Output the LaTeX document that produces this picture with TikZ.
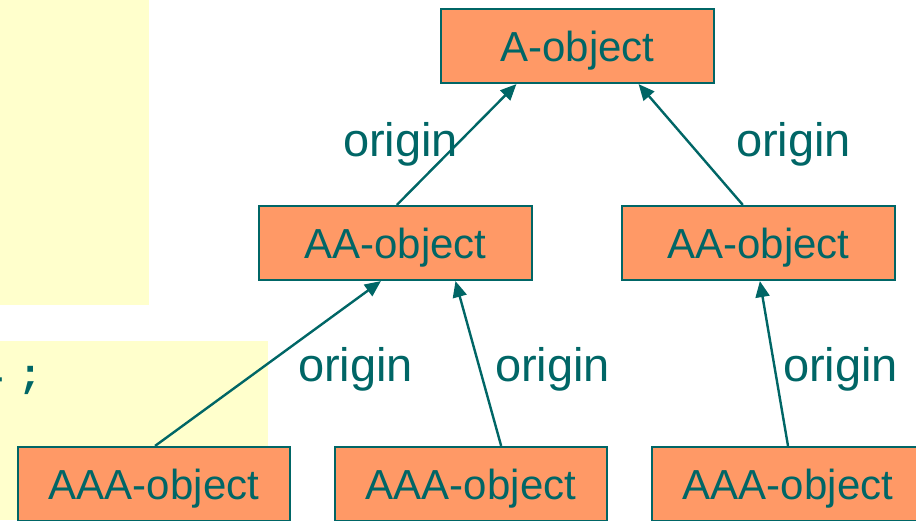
\documentclass[tikz,border=0pt]{standalone}
\usepackage{fontspec}
\setmainfont{Liberation Sans}
\newfontfamily\codefont{Liberation Mono}
\usetikzlibrary{arrows.meta,calc}
\definecolor{tealdk}{HTML}{006666}
\definecolor{boxfill}{HTML}{FF9966}
\definecolor{yel}{HTML}{FFFFCC}
\tikzset{
  obj/.style={draw=tealdk, line width=2.2pt, fill=boxfill, text=tealdk,
    minimum width=273pt, minimum height=74pt, inner sep=0pt,
    font=\fontsize{42}{50}\selectfont, text height=30pt, text depth=0pt},
  lbl/.style={text=tealdk, font=\fontsize{47}{56}\selectfont, inner sep=0pt, anchor=base west},
  link/.style={draw=tealdk, line width=2.4pt, -{Triangle[length=16pt,width=14pt]}},
  codetxt/.style={text=tealdk, font=\codefont\bfseries\fontsize{40}{48}\selectfont, inner sep=0pt, anchor=base west}
}
\begin{document}
\begin{tikzpicture}[x=1pt,y=-1pt]
\useasboundingbox (0,0) rectangle (916,520);
\clip (0,0) rectangle (916,520);
% background code panels
\fill[yel] (0,0) rectangle (149,305);
\fill[yel] (0,341) rectangle (268,520);
\node[codetxt] (code) at (-21,387) {4\hspace{15.5pt};};
% objects
\node[obj] (a)   at (577.5,46)  {A-object};
\node[obj] (aal) at (395.5,243) {AA-object};
\node[obj] (aar) at (758.5,243) {AA-object};
\node[obj, minimum width=272pt] (aaa1) at (154,484) {AAA-object};
\node[obj, minimum width=272pt] (aaa2) at (471,484) {AAA-object};
\node[obj, minimum width=272pt] (aaa3) at (788,484) {AAA-object};
% links
\draw[link] ($(aal.north west)!0.505!(aal.north east)$) -- ($(a.south west)!0.278!(a.south east)$);
\draw[link] ($(aar.north west)!0.443!(aar.north east)$) -- ($(a.south west)!0.722!(a.south east)$);
\draw[link] ($(aaa1.north west)!0.504!(aaa1.north east)$) -- ($(aal.south west)!0.447!(aal.south east)$);
\draw[link] ($(aaa2.north west)!0.61!(aaa2.north east)$) -- ($(aal.south west)!0.718!(aal.south east)$);
\draw[link] ($(aaa3.north west)!0.5!(aaa3.north east)$) -- ($(aar.south west)!0.505!(aar.south east)$);
% labels
\node[lbl] (o1) at (343,156) {origin};
\node[lbl] (o2) at (736,156) {origin};
\node[lbl] (o3) at (298,381.5) {origin};
\node[lbl] (o4) at (495,381.5) {origin};
\node[lbl] (o5) at (783,381.5) {origin};
\end{tikzpicture}
\end{document}
